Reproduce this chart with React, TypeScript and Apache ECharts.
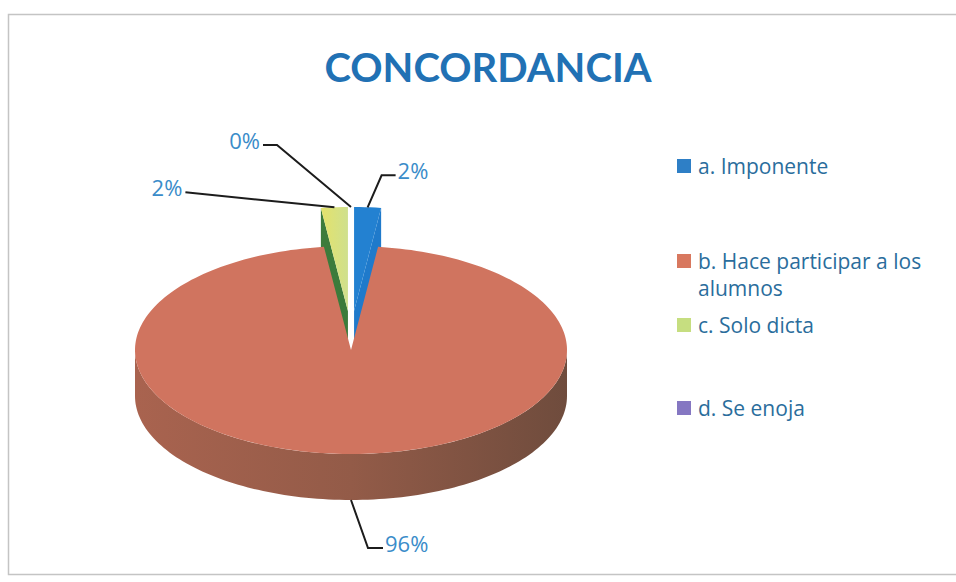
import React, { useEffect, useRef } from "react";
import * as echarts from "echarts";

// ---- data ----
const categories = ["a. Imponente", "b. Hace participar a los alumnos", "c. Solo dicta", "d. Se enoja"];
const legendLines = [["a. Imponente"], ["b. Hace participar a los", "alumnos"], ["c. Solo dicta"], ["d. Se enoja"]];
const percentages = [2, 96, 2, 0];
const explodes = [0.375, 0, 0.375, 0.375];
const titleText = "CONCORDANCIA";

// ---- styles / layout ----
const topColors = ["#2381d1", "#d0745f", "#dde276", "#8577c2"];
const faceColors = ["#1f7acb", "#8a5644", "#3c7b3b", "#5f4f91"];
const legendColors = ["#2e7fc6", "#d8785f", "#c6de80", "#8577c2"];
const legendRowY = [166, 261, 325, 408];
const LEGEND_LINE_GAP = 27;
const PIE = { cx: 351, cy: 350, rx: 216, ry: 104, depth: 46 };
const labelLayout = [
  { elbow: [14, -32], end: [28, -32], align: "left" },
  { elbow: [17, 48], end: [32, 48], align: "left" },
  { elbow: [-149, -15], end: [-149, -15], align: "right" },
  { elbow: [-74, -62], end: [-88, -62], align: "right" },
];
const TITLE_FONT = "Lato";
const FONT = "Open Sans";

export default function App() {
  const ref = useRef<HTMLDivElement>(null);
  useEffect(() => {
    if (!ref.current) return;
    const chart = echarts.init(ref.current, null, { renderer: "svg" });
    const total = percentages.reduce((a, b) => a + b, 0);
    const rad = (d: number) => (d * Math.PI) / 180;

    const renderItem = (params: any, api: any) => {
      const i = params.dataIndex;
      const v = api.value(0);
      let s = 0;
      for (let j = 0; j < i; j++) s += percentages[j];
      const a0 = (s / total) * 360;
      const a1 = ((s + v) / total) * 360;
      const m = (a0 + a1) / 2;
      const e = explodes[i];
      const ox = e * Math.sin(rad(m)) * 0.6;
      const oy = e * Math.cos(rad(m));
      const { cx, cy, rx, ry, depth } = PIE;
      const P = (deg: number, r: number, dz = 0) => [
        cx + rx * (r * Math.sin(rad(deg)) + ox),
        cy - ry * (r * Math.cos(rad(deg)) + oy) + dz,
      ];
      const arc = (from: number, to: number, dz: number) => {
        const n = Math.max(2, Math.ceil((to - from) / 1.5));
        const pts: number[][] = [];
        for (let k = 0; k <= n; k++) pts.push(P(from + ((to - from) * k) / n, 1, dz));
        return pts;
      };
      const zBase = i === 1 ? 10 : 1;
      const children: any[] = [];
      if (a1 > a0) {
        const w0 = Math.max(a0, 90);
        const w1 = Math.min(a1, 270);
        if (w1 > w0) {
          children.push({
            type: "polygon",
            z2: zBase,
            shape: { points: [...arc(w0, w1, 0), ...arc(w0, w1, depth).reverse()] },
            style: {
              fill: new echarts.graphic.LinearGradient(0, 0, 1, 0, [
                { offset: 0, color: "#a9634f" },
                { offset: 0.5, color: "#935b48" },
                { offset: 1, color: "#6f4c3d" },
              ]),
            },
          });
        }
        const face = (a: number) => ({
          type: "polygon",
          z2: zBase,
          shape: { points: [P(a, 0, 0), P(a, 1, 0), P(a, 1, depth), P(a, 0, depth)] },
          style: { fill: faceColors[i] },
        });
        if (Math.sin(rad(a0)) < -1e-6) children.push(face(a0));
        if (Math.sin(rad(a1)) > 1e-6) children.push(face(a1));
        const topFill =
          i === 2
            ? new echarts.graphic.LinearGradient(0, 0, 1, 0, [
                { offset: 0, color: "#e4e26a" },
                { offset: 1, color: "#cfe08e" },
              ])
            : topColors[i];
        children.push({
          type: "polygon",
          z2: zBase + 1,
          shape: { points: [P(0, 0, 0), ...arc(a0, a1, 0)] },
          style: { fill: topFill },
        });
      }
      // label with leader
      const front = Math.cos(rad(m)) < 0;
      const anchor = P(m, 1, front ? depth : 0);
      const L = labelLayout[i];
      const elbow = [anchor[0] + L.elbow[0], anchor[1] + L.elbow[1]];
      const end = [anchor[0] + L.end[0], anchor[1] + L.end[1]];
      children.push({
        type: "polyline",
        z2: 20,
        shape: { points: [anchor, elbow, end] },
        style: { stroke: "#1c1c1c", lineWidth: 2, fill: null },
      });
      children.push({
        type: "text",
        z2: 21,
        x: end[0] + (L.align === "left" ? 2 : -3),
        y: end[1] - 5,
        style: {
          text: `${Math.round(v)}%`,
          fill: "#3a8cc9",
          fontSize: 22,
          fontFamily: FONT,
          align: L.align,
          verticalAlign: "middle",
        },
      });
      return { type: "group", children };
    };

    const legendGraphics: any[] = [];
    categories.forEach((_c, i) => {
      const y = legendRowY[i];
      legendGraphics.push({
        type: "rect",
        shape: { x: 677, y: y - 7, width: 14, height: 14 },
        style: { fill: legendColors[i] },
      });
      legendLines[i].forEach((line, k) => {
        legendGraphics.push({
          type: "text",
          x: 698,
          y: y + k * LEGEND_LINE_GAP,
          style: {
            text: line,
            fill: "#2a6d9c",
            fontSize: 21,
            fontFamily: FONT,
            verticalAlign: "middle",
          },
        });
      });
    });

    chart.setOption({
      animation: false,
      backgroundColor: "#ffffff",
      title: {
        text: titleText,
        left: 488,
        top: 47,
        padding: 0,
        textAlign: "center",
        textStyle: { color: "#2171b4", fontSize: 40, fontWeight: "bold", fontFamily: TITLE_FONT },
      },
      graphic: [
        {
          type: "rect",
          shape: { x: 8.5, y: 14.5, width: 960, height: 560 },
          style: { fill: "none", stroke: "#c4c4c4", lineWidth: 1.5 },
          silent: true,
        },
        ...legendGraphics,
      ],
      series: [
        {
          type: "custom",
          coordinateSystem: "none",
          renderItem,
          data: percentages.map((v, i) => ({ value: [v], name: categories[i] })),
        },
      ],
    });
    return () => chart.dispose();
  }, []);
  return (
    <div
      ref={ref}
      style={{ position: "fixed", left: 0, top: 0, width: 956, height: 582 }}
    />
  );
}
